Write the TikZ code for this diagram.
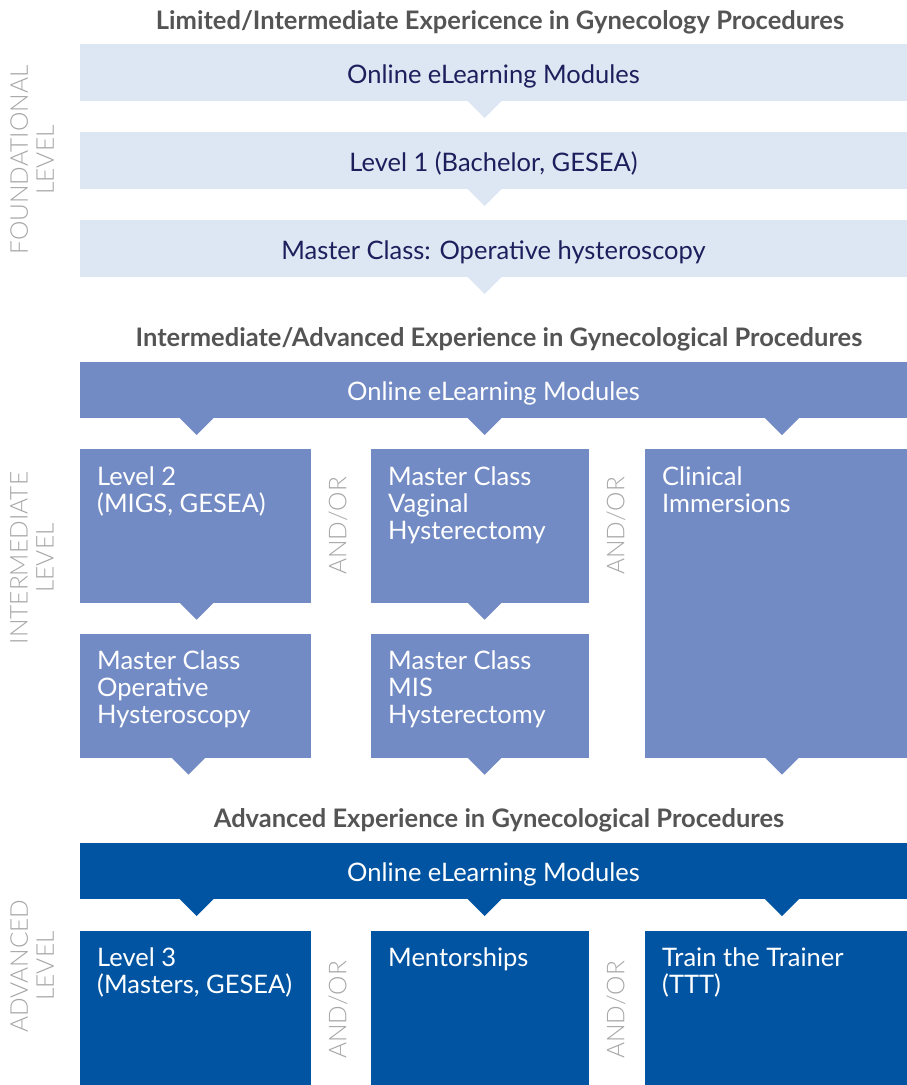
\documentclass[tikz,border=0pt]{standalone}
\usepackage{fontspec}
\setmainfont{Lato}
\newfontfamily\thinfont{Lato Light}
\usetikzlibrary{positioning}

\definecolor{paleblue}{HTML}{DDE7F3}
\definecolor{midblue}{HTML}{738BC4}
\definecolor{deepblue}{HTML}{0054A1}
\definecolor{navytext}{HTML}{1B1F5C}
\definecolor{titlegray}{HTML}{545454}
\definecolor{levelgray}{HTML}{A6A6A6}

\begin{document}
\begin{tikzpicture}[
  x = 1pt,
  y = -1pt,
  heading/.style = {
    font = \bfseries\fontsize{25.5}{29}\selectfont,
    text = titlegray,
  },
  bar/.style = {
    shape = rectangle,
    anchor = north west,
    minimum width = 827pt,
    minimum height = 57pt,
    inner sep = 0pt,
    outer sep = 0pt,
    text height = 21pt,
    text depth = 0pt,
    font = \fontsize{25.5}{27}\selectfont,
  },
  tile/.style = {
    shape = rectangle,
    anchor = north west,
    inner sep = 0pt,
    outer sep = 0pt,
  },
  tiletext/.style = {
    align = left,
    inner sep = 0pt,
    text = white,
    font = \fontsize{25.5}{27}\selectfont,
  },
  side/.style = {
    rotate = 90,
    align = center,
    text = levelgray,
    font = \thinfont\fontsize{24.5}{26}\selectfont,
  },
  andor/.style = {
    rotate = 90,
    text = levelgray,
    font = \thinfont\fontsize{24.5}{26}\selectfont,
  },
  notch/.pic = {
    \fill (-17.5, -0.5) -- (17.5, -0.5) -- (0, 17) -- cycle;
  }
]
  \useasboundingbox (0, 0) rectangle (907, 1085);

  \coordinate (k0) at (188.5, 0);
  \coordinate (k1) at (196.6, 0);
  \coordinate (k2) at (484.7, 0);
  \coordinate (k3) at (782, 0);

  \node[heading] (fhead) at (500, 22) {Limited/Intermediate Expericence in Gynecology Procedures};
  \node[bar, fill = paleblue, text = navytext] (fo1) at (80, 44) {Online eLearning Modules};
  \node[bar, fill = paleblue, text = navytext] (fo2) at (80, 132) {Level 1 (Bachelor, GESEA)};
  \node[bar, fill = paleblue, text = navytext] (fo3) at (80, 220) {Master Class: Operative hysteroscopy};
  \pic[paleblue] at (fo1.south -| k2) {notch};
  \pic[paleblue] at (fo2.south -| k2) {notch};
  \pic[paleblue] at (fo3.south -| k2) {notch};
  \node[side] (flevel) at (32, 160) {FOUNDATIONAL\\LEVEL};

  \node[heading] (ihead) at (499, 339) {Intermediate/Advanced Experience in Gynecological Procedures};
  \node[bar, fill = midblue, text = white, minimum height = 56pt] (in0) at (80, 362) {Online eLearning Modules};
  \node[tile, fill = midblue, minimum width = 231pt, minimum height = 153.4pt] (inA) at (80, 449.3) {};
  \node[tile, fill = midblue, minimum width = 218pt, minimum height = 153.4pt] (inB) at (371, 449.3) {};
  \node[tile, fill = midblue, minimum width = 262pt, minimum height = 308.4pt] (inC) at (645, 449.3) {};
  \node[tile, fill = midblue, minimum width = 231pt, minimum height = 123.7pt] (inD) at (80, 634) {};
  \node[tile, fill = midblue, minimum width = 218pt, minimum height = 123.7pt] (inE) at (371, 634) {};
  \node[tiletext, below right = 17pt and 17pt of inA.north west] (tA) {Level 2\\(MIGS, GESEA)};
  \node[tiletext, below right = 17pt and 17pt of inB.north west] (tB) {Master Class\\Vaginal\\Hysterectomy};
  \node[tiletext, below right = 17pt and 17pt of inC.north west] (tC) {Clinical\\Immersions};
  \node[tiletext, below right = 17pt and 17pt of inD.north west] (tD) {Master Class\\Operative\\Hysteroscopy};
  \node[tiletext, below right = 17pt and 17pt of inE.north west] (tE) {Master Class\\MIS\\Hysterectomy};
  \pic[midblue] at (in0.south -| k1) {notch};
  \pic[midblue] at (in0.south -| k2) {notch};
  \pic[midblue] at (in0.south -| k3) {notch};
  \pic[midblue] at (inA.south -| k1) {notch};
  \pic[midblue] at (inB.south -| k2) {notch};
  \pic[midblue] at (inD.south -| k0) {notch};
  \pic[midblue] at (inE.south -| k2) {notch};
  \pic[midblue] at (inC.south -| k3) {notch};
  \node[andor] (ior1) at (338, 526) {AND/OR};
  \node[andor] (ior2) at (616, 526) {AND/OR};
  \node[side] (ilevel) at (32, 558) {INTERMEDIATE\\LEVEL};

  \node[heading] (ahead) at (499, 820) {Advanced Experience in Gynecological Procedures};
  \node[bar, fill = deepblue, text = white, minimum height = 56pt] (ad0) at (80, 843) {Online eLearning Modules};
  \node[tile, fill = deepblue, minimum width = 231pt, minimum height = 156pt] (adA) at (80, 930.7) {};
  \node[tile, fill = deepblue, minimum width = 218pt, minimum height = 156pt] (adB) at (371, 930.7) {};
  \node[tile, fill = deepblue, minimum width = 262pt, minimum height = 156pt] (adC) at (645, 930.7) {};
  \node[tiletext, below right = 17pt and 17pt of adA.north west] (sA) {Level 3\\(Masters, GESEA)};
  \node[tiletext, below right = 17pt and 17pt of adB.north west] (sB) {Mentorships};
  \node[tiletext, below right = 17pt and 17pt of adC.north west] (sC) {Train the Trainer\\(TTT)};
  \pic[deepblue] at (ad0.south -| k1) {notch};
  \pic[deepblue] at (ad0.south -| k2) {notch};
  \pic[deepblue] at (ad0.south -| k3) {notch};
  \node[andor] (aor1) at (338, 1010) {AND/OR};
  \node[andor] (aor2) at (616, 1010) {AND/OR};
  \node[side] (alevel) at (32, 966) {ADVANCED\\LEVEL};
\end{tikzpicture}
\end{document}
